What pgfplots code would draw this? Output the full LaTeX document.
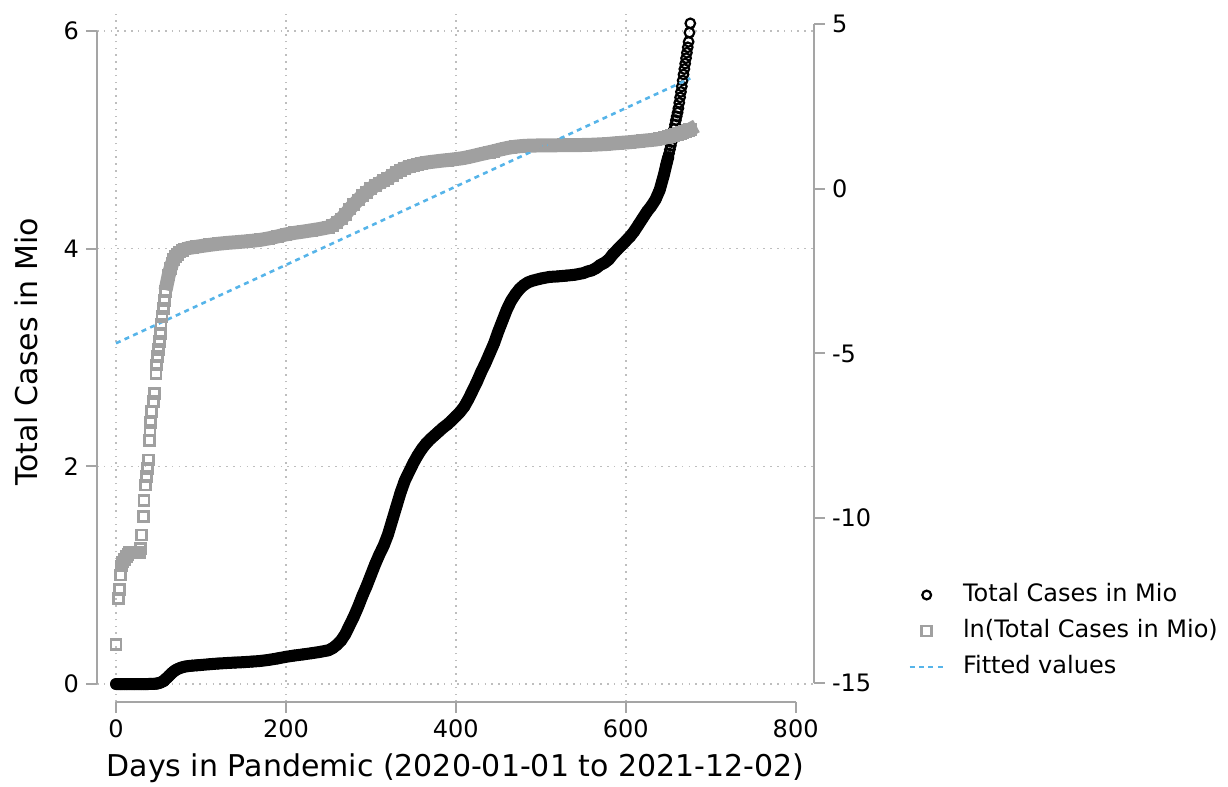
\documentclass[border=0pt]{standalone}
\usepackage{pgfplots}
\pgfplotsset{compat=1.18}
\usepackage{pgfplotstable}
\usepackage{fontspec}
\setmainfont{DejaVu Sans}
\definecolor{sqgray}{RGB}{160,160,160}
\definecolor{axgray}{RGB}{165,165,165}
\definecolor{gridgray}{RGB}{190,190,190}
\definecolor{fitblue}{RGB}{86,180,233}

\pgfplotstableread{
day tot ln
0 0.000001 -13.82
3 0.000004 -12.43
4 0.000005 -12.17
5 0.000008 -11.72
6 0.000011 -11.45
7 0.000011 -11.38
8 0.000012 -11.33
10 0.000013 -11.26
12 0.000014 -11.16
14 0.000015 -11.10
16 0.000016 -11.04
18 0.000016 -11.04
20 0.000016 -11.04
22 0.000016 -11.04
24 0.000016 -11.04
26 0.000016 -11.04
28 0.000016 -11.04
29 0.000018 -10.92
30 0.000027 -10.51
32 0.000048 -9.95
33 0.000079 -9.45
35 0.000125 -8.99
36 0.00016 -8.74
37 0.00021 -8.48
38 0.00027 -8.23
39 0.00049 -7.63
40 0.00066 -7.32
41 0.00083 -7.10
42 0.00115 -6.77
44 0.00156 -6.46
45 0.0020 -6.21
47 0.0037 -5.60
48 0.0047 -5.35
49 0.0061 -5.10
50 0.0075 -4.89
51 0.0097 -4.64
52 0.0124 -4.39
53 0.0161 -4.13
54 0.0207 -3.88
56 0.0265 -3.63
57 0.0340 -3.38
58 0.0442 -3.12
60 0.0567 -2.87
62 0.073 -2.62
64 0.088 -2.43
66 0.103 -2.27
68 0.116 -2.15
70 0.127 -2.06
72 0.136 -2.00
75 0.146 -1.92
78 0.154 -1.87
81 0.160 -1.83
85 0.165 -1.80
90 0.169 -1.78
95 0.172 -1.76
100 0.175 -1.74
110 0.182 -1.704
120 0.188 -1.671
130 0.193 -1.645
140 0.197 -1.625
150 0.201 -1.604
160 0.206 -1.580
170 0.212 -1.551
180 0.222 -1.505
190 0.235 -1.448
200 0.250 -1.386
210 0.262 -1.339
220 0.272 -1.302
230 0.283 -1.262
240 0.295 -1.221
250 0.310 -1.171
255 0.330 -1.109
260 0.360 -1.022
265 0.400 -0.916
270 0.460 -0.777
275 0.540 -0.616
280 0.620 -0.478
285 0.710 -0.342
290 0.810 -0.211
295 0.900 -0.105
300 1.000 0.000
305 1.100 0.095
310 1.190 0.174
315 1.270 0.239
320 1.370 0.315
325 1.500 0.405
330 1.630 0.489
335 1.760 0.565
340 1.870 0.626
345 1.950 0.668
350 2.030 0.708
355 2.100 0.742
360 2.160 0.770
365 2.210 0.793
370 2.250 0.811
375 2.285 0.826
380 2.320 0.842
385 2.355 0.857
390 2.385 0.869
395 2.420 0.884
400 2.460 0.900
405 2.500 0.916
410 2.550 0.936
415 2.620 0.963
420 2.700 0.993
425 2.780 1.022
430 2.870 1.054
435 2.950 1.082
440 3.040 1.112
445 3.130 1.141
450 3.240 1.176
455 3.340 1.206
460 3.440 1.235
465 3.520 1.258
470 3.580 1.275
475 3.630 1.289
480 3.665 1.299
485 3.690 1.306
490 3.705 1.310
500 3.725 1.315
510 3.740 1.319
520 3.745 1.320
530 3.752 1.322
540 3.760 1.324
550 3.775 1.328
555 3.790 1.332
560 3.800 1.335
565 3.820 1.340
570 3.850 1.348
575 3.870 1.353
580 3.900 1.361
585 3.950 1.374
590 3.990 1.384
595 4.030 1.394
600 4.070 1.404
605 4.110 1.413
610 4.160 1.426
615 4.220 1.440
620 4.280 1.454
625 4.340 1.468
630 4.390 1.479
635 4.450 1.493
640 4.540 1.513
645 4.680 1.543
648 4.780 1.564
650 4.840 1.577
651 4.875 1.584
652 4.910 1.591
653 4.945 1.598
654 4.980 1.605
655 5.020 1.613
656 5.060 1.621
657 5.100 1.629
658 5.140 1.637
659 5.180 1.645
660 5.215 1.652
661 5.250 1.658
662 5.290 1.666
663 5.340 1.675
664 5.390 1.685
665 5.440 1.694
666 5.490 1.703
667 5.545 1.713
668 5.600 1.723
669 5.650 1.732
670 5.700 1.740
671 5.750 1.749
672 5.800 1.758
673 5.850 1.766
674 5.900 1.775
675 5.985 1.789
676 6.070 1.803
}\data

\begin{document}
\begin{tikzpicture}
\useasboundingbox (0,0) rectangle (614pt,393.5pt);
\begin{axis}[
  at={(48.5pt,42.5pt)}, anchor=south west,
  scale only axis, width=358.5pt, height=344.5pt,
  xmin=-22.4, xmax=821.6, ymin=-0.165, ymax=6.165,
  clip=false,
  axis line style={draw=none},
  xtick={0,200,400,600,800}, xticklabels={0,200,400,600,800},
  ytick={0,2,4,6}, yticklabels={0,2,4,6},
  xtick pos=bottom, ytick pos=left,
  tick align=outside, major tick length=5.5pt,
  tick style={axgray, line width=1pt},
  tick label style={font=\fontsize{12}{14}\selectfont, black},
  xmajorgrids=false, ymajorgrids=true,
  extra x ticks={0,200,400,600}, extra x tick labels={},
  extra x tick style={xmajorgrids=true, major tick length=0pt},
  grid style={gridgray, line width=0.8pt, dash pattern=on 0.8pt off 2.6pt},
]
\draw[axgray, line width=1pt] (axis cs:-22.4,0) -- (axis cs:-22.4,6);
\draw[axgray, line width=1pt] (axis cs:0,-0.165) -- (axis cs:800,-0.165);
\addplot[black, line width=6pt, line cap=round, line join=round, restrict x to domain=0:650, forget plot] table[x=day,y=tot]{\data};
\addplot[only marks, mark=o, mark size=2.4pt, black, line width=1.1pt] table[x=day,y=tot]{\data};
\end{axis}
\begin{axis}[
  at={(48.5pt,42.5pt)}, anchor=south west,
  scale only axis, width=358.5pt, height=344.5pt,
  xmin=-22.4, xmax=821.6, ymin=-15.577, ymax=5.334,
  clip=false,
  axis line style={draw=none},
  xtick=\empty,
  ytick={-15,-10,-5,0,5}, yticklabels={-15,-10,-5,0,5},
  ytick pos=right, yticklabel pos=right,
  tick align=outside, major tick length=5.5pt,
  tick style={axgray, line width=1pt},
  tick label style={font=\fontsize{12}{14}\selectfont, black},
  legend cell align=left,
  legend style={at={(1.131,0.103)}, anchor=west, draw=none, fill=none,
    inner sep=0pt, font=\fontsize{12}{14}\selectfont, row sep=6pt, column sep=9pt,
    nodes={inner sep=0pt, text height=9pt, text depth=3pt}},
]
\draw[axgray, line width=1pt] (axis cs:821.6,-15) -- (axis cs:821.6,5);
\addlegendimage{only marks, mark=o, mark size=2.2pt, black, line width=1.1pt}
\addlegendentry{Total Cases in Mio}
\addplot[sqgray, line width=7pt, line cap=rect, line join=round, restrict x to domain=60:700, forget plot] table[x=day,y=ln]{\data};
\addplot[only marks, mark=square, mark size=2.5pt, sqgray, line width=1.4pt] table[x=day,y=ln]{\data};
\addlegendentry{ln(Total Cases in Mio)}
\addplot[fitblue, line width=1.3pt, dash pattern=on 2.5pt off 2.2pt] coordinates {(0,-4.69) (676,3.35)};
\addlegendentry{Fitted values}
\end{axis}
\node[anchor=base, font=\fontsize{15}{18}\selectfont] at (227.75pt,5.15pt) {Days in Pandemic (2020-01-01 to 2021-12-02)};
\node[anchor=base, rotate=90, font=\fontsize{15}{18}\selectfont] at (19pt,217.5pt) {Total Cases in Mio};
\end{tikzpicture}
\end{document}
